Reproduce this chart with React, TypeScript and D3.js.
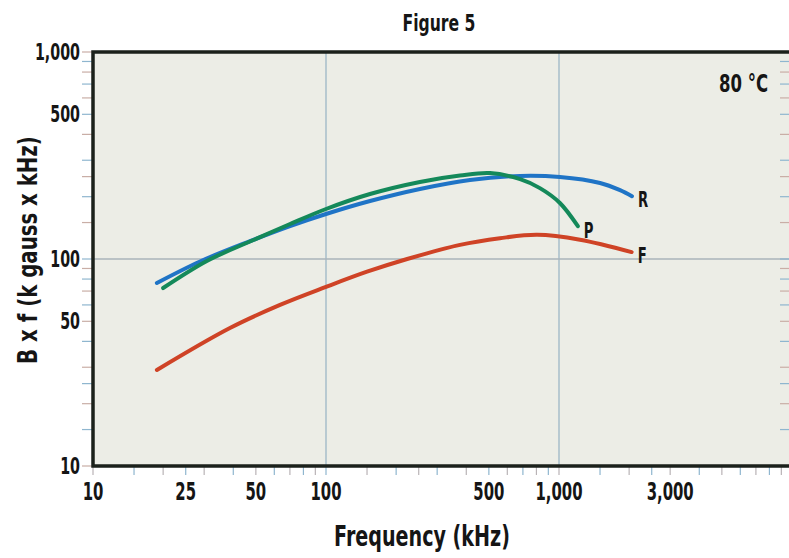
import { useRef, useEffect } from 'react';
import * as d3 from 'd3';

const W = 789;
const H = 558;

// (frequency kHz, B x f)
const rFreq = [18.8, 28.8, 47.2, 70.1, 100, 154.5, 253, 415, 681, 1009, 1500, 1828, 2056];
const rBxf = [76.6, 97.3, 122, 144.3, 165, 190.6, 218, 241, 252, 249, 233, 215, 201];

const pFreq = [20, 30.8, 47.2, 70.1, 100, 154.5, 253, 376, 506, 681, 828, 1009, 1205];
const pBxf = [72.4, 97.8, 121.5, 147.6, 174.4, 206, 235.6, 253, 260, 243, 220, 186.5, 144];

const fFreq = [18.8, 38.7, 63.5, 100, 150, 223, 376, 558, 805, 1230, 2050];
const fBxf = [29.1, 46.4, 60, 73.3, 86.8, 100, 117, 126, 131, 124, 108];

const xTickLabels = [10, 25, 50, 100, 500, 1000, 3000];
const yTickLabels = [10, 50, 100, 500, 1000];
const gridX = [100, 1000];
const gridY = [100];
const decadeSteps = [1, 1.5, 2, 2.5, 3, 4, 5, 6, 7, 8, 9];

const SERIES = [
  { name: 'R', freq: rFreq, bxf: rBxf, color: '#1f74c6' },
  { name: 'P', freq: pFreq, bxf: pBxf, color: '#14895a' },
  { name: 'F', freq: fFreq, bxf: fBxf, color: '#cf4326' },
];

const FONT = "'DejaVu Sans', sans-serif";

type Sel = d3.Selection<SVGSVGElement, unknown, null, undefined>;

// condensed-looking text: squeeze a normal bold face horizontally
function label(svg: Sel, x: number, y: number, txt: string, size: number, sx: number,
  anchor = 'middle', rot = 0) {
  svg.append('g')
    .attr('transform', `translate(${x},${y}) rotate(${rot}) scale(${sx},1)`)
    .append('text')
    .attr('text-anchor', anchor)
    .attr('font-family', FONT)
    .attr('font-size', size)
    .attr('font-weight', 700)
    .attr('fill', '#151515')
    .text(txt);
}

function Chart() {
  const svgRef = useRef<SVGSVGElement | null>(null);

  useEffect(() => {
    const svg = d3.select(svgRef.current) as unknown as Sel;
    svg.selectAll('*').remove();

    const left = 93, top = 52, bottom = 466, right = 792;
    const x = d3.scaleLog().domain([10, 10000]).range([left, right]);
    const y = d3.scaleLog().domain([10, 1000]).range([bottom, top]);

    const fmt = d3.format(',');

    // plot background
    svg.append('rect')
      .attr('x', left).attr('y', top)
      .attr('width', right - left).attr('height', bottom - top)
      .attr('fill', '#ecede6');

    // grid
    svg.selectAll('.gx').data(gridX).join('line')
      .attr('x1', d => x(d)).attr('x2', d => x(d))
      .attr('y1', top).attr('y2', bottom)
      .attr('stroke', '#9db6c6').attr('stroke-width', 1.3);
    svg.selectAll('.gy').data(gridY).join('line')
      .attr('x1', left).attr('x2', right)
      .attr('y1', d => y(d)).attr('y2', d => y(d))
      .attr('stroke', '#aab3ba').attr('stroke-width', 1.3);

    // minor/major ticks
    const xTicks: number[] = [];
    [10, 100, 1000].forEach(dec => decadeSteps.forEach(s => xTicks.push(dec * s)));
    xTicks.push(10000);
    const yTicks: number[] = [];
    [10, 100].forEach(dec => decadeSteps.forEach(s => yTicks.push(dec * s)));
    yTicks.push(1000);

    svg.selectAll('.xt').data(xTicks).join('line')
      .attr('x1', d => x(d)).attr('x2', d => x(d))
      .attr('y1', bottom).attr('y2', bottom + 9)
      .attr('stroke', (_, i) => (i % 2 ? '#8fb6cf' : '#b9b3b6')).attr('stroke-width', 1.2);
    svg.selectAll('.yt').data(yTicks).join('line')
      .attr('x1', left - 11).attr('x2', left)
      .attr('y1', d => y(d)).attr('y2', d => y(d))
      .attr('stroke', (_, i) => (i % 2 ? '#8fb6cf' : '#c9aea6')).attr('stroke-width', 1.2);
    svg.selectAll('.yr').data(yTicks).join('line')
      .attr('x1', 780).attr('x2', 790)
      .attr('y1', d => y(d)).attr('y2', d => y(d))
      .attr('stroke', (_, i) => (i % 2 ? '#8fb6cf' : '#c9aea6')).attr('stroke-width', 1.2);

    // frame
    svg.append('path')
      .attr('d', `M${right},${top}H${left}V${bottom}H${right}`)
      .attr('fill', 'none')
      .attr('stroke', '#1b211b')
      .attr('stroke-width', 3.5);

    // tick labels
    xTickLabels.forEach(d => label(svg, x(d), 500, fmt(d), 24, 0.62));
    yTickLabels.forEach(d => label(svg, 80, y(d) + 8, fmt(d), 23, 0.62, 'end'));

    // curves
    const line = d3.line<[number, number]>()
      .x(d => x(d[0]))
      .y(d => y(d[1]))
      .curve(d3.curveCatmullRom.alpha(0.5));

    SERIES.forEach(s => {
      const pts = s.freq.map((f, i) => [f, s.bxf[i]] as [number, number]);
      svg.append('path')
        .attr('d', line(pts))
        .attr('fill', 'none')
        .attr('stroke', s.color)
        .attr('stroke-width', 4)
        .attr('stroke-linecap', 'round');
      const last = pts[pts.length - 1];
      label(svg, x(last[0]) + 6, y(last[1]) + (s.name === 'P' ? 12 : 11), s.name, 22, 0.6, 'start');
    });

    // annotations and titles
    label(svg, 768, 92, '80 °C', 25, 0.66, 'end');
    label(svg, 439, 31, 'Figure 5', 23, 0.68);
    label(svg, 422, 546, 'Frequency (kHz)', 29, 0.66);
    label(svg, 37, 250, 'B x f (k gauss x kHz)', 26, 0.76, 'middle', -90);
  }, []);

  return (
    <svg
      ref={svgRef}
      width={W}
      height={H}
      style={{ position: 'absolute', left: 0, top: 0, background: '#fff', display: 'block' }}
    />
  );
}

export default function App() {
  return <Chart />;
}
